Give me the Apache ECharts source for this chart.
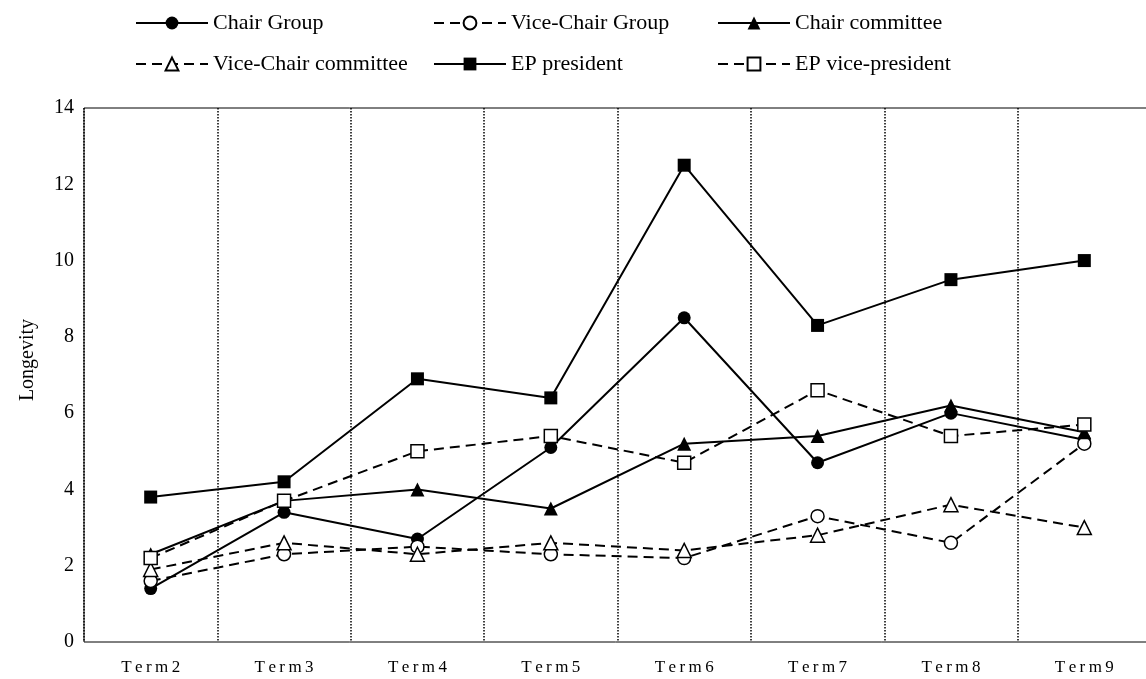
<!DOCTYPE html>
<html>
<head>
<meta charset="utf-8">
<script src="https://cdn.jsdelivr.net/npm/echarts@6/dist/echarts.min.js"></script>
<style>
  html, body { margin: 0; padding: 0; background: #fff; }
  #chart { width: 1146px; height: 679px; }
</style>
</head>
<body>
<div id="chart"></div>
<script>
const categories = ['Term2', 'Term3', 'Term4', 'Term5', 'Term6', 'Term7', 'Term8', 'Term9']
const chairGroup = [1.4, 3.4, 2.7, 5.1, 8.5, 4.7, 6.0, 5.3]
const viceChairGroup = [1.6, 2.3, 2.5, 2.3, 2.2, 3.3, 2.6, 5.2]
const chairCommittee = [2.3, 3.7, 4.0, 3.5, 5.2, 5.4, 6.2, 5.5]
const viceChairCommittee = [1.9, 2.6, 2.3, 2.6, 2.4, 2.8, 3.6, 3.0]
const epPresident = [3.8, 4.2, 6.9, 6.4, 12.5, 8.3, 9.5, 10.0]
const epVicePresident = [2.2, 3.7, 5.0, 5.4, 4.7, 6.6, 5.4, 5.7]
const yTicks = { min: 0, max: 14, interval: 2 }

const font = 'Liberation Serif'

// name, data, marker, filled, dashed
const seriesDefs = [
  ['Chair Group', chairGroup, 'circle', true, false],
  ['Vice-Chair Group', viceChairGroup, 'circle', false, true],
  ['Chair committee', chairCommittee, 'triangle', true, false],
  ['Vice-Chair committee', viceChairCommittee, 'triangle', false, true],
  ['EP president', epPresident, 'rect', true, false],
  ['EP vice-president', epVicePresident, 'rect', false, true],
]

// legend slots laid out like the original 3x2 block
const legendSlots = [
  { left: 130, top: 7 },
  { left: 428, top: 7 },
  { left: 712, top: 7 },
  { left: 130, top: 48 },
  { left: 428, top: 48 },
  { left: 712, top: 48 },
]

const chart = echarts.init(document.getElementById('chart'))

chart.setOption({
  animation: false,
  backgroundColor: '#fff',
  legend: seriesDefs.map((s, i) => ({
    data: [s[0]],
    left: legendSlots[i].left,
    top: legendSlots[i].top,
    itemWidth: 72,
    itemHeight: 16,
    textStyle: { fontFamily: font, fontSize: 22, color: '#000' },
  })),
  grid: {
    left: 84,
    top: 108,
    width: 1067,
    height: 534,
    outerBoundsMode: 'none',
    show: true,
    borderColor: '#000',
    borderWidth: 1,
  },
  xAxis: {
    type: 'category',
    data: categories,
    boundaryGap: true,
    axisLine: { show: false },
    axisTick: { show: false },
    axisLabel: {
      fontFamily: font,
      fontSize: 17,
      color: '#000',
      margin: 17,
      // the original spreads the letters out a little
      formatter: v => v.split('').join('\u2009'),
    },
    splitLine: { show: true, lineStyle: { type: 'dotted', color: '#000', width: 1.5 } },
  },
  yAxis: {
    type: 'value',
    min: yTicks.min,
    max: yTicks.max,
    interval: yTicks.interval,
    axisLine: { show: false },
    axisTick: { show: false },
    splitLine: { show: false },
    axisLabel: { fontFamily: font, fontSize: 20, color: '#000', margin: 10, padding: [4, 0, 0, 0] },
    name: 'Longevity',
    nameLocation: 'middle',
    nameGap: 46,
    nameTextStyle: { fontFamily: font, fontSize: 20, color: '#000', padding: [0, 0, 0, 30] },
  },
  series: seriesDefs.map(([name, data, marker, filled, dashed]) => ({
    name,
    type: 'line',
    data,
    symbol: marker,
    symbolSize: marker === 'triangle' ? 14 : 13,
    showAllSymbol: true,
    lineStyle: { color: '#000', width: 2, type: dashed ? [10, 6] : 'solid' },
    itemStyle: {
      color: filled ? '#000' : '#fff',
      borderColor: '#000',
      borderWidth: filled ? 0 : 1.5,
    },
  })),
})
</script>
</body>
</html>
